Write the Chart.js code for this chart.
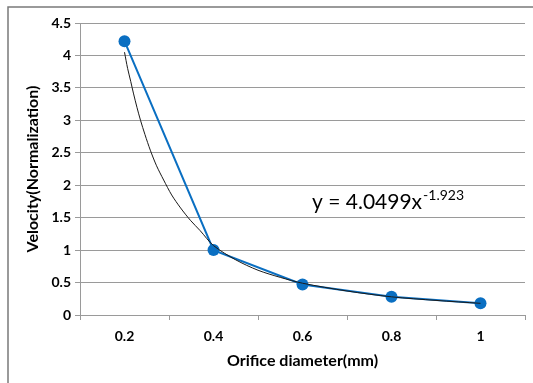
<!DOCTYPE html>
<html>
<head>
<meta charset="utf-8">
<script src="https://cdn.jsdelivr.net/npm/chart.js@4.4.1/dist/chart.umd.min.js"></script>
<style>
  html, body { margin: 0; padding: 0; background: #fff; }
  #wrap { width: 533px; height: 383px; }
</style>
</head>
<body>
<div id="wrap"><canvas id="chart"></canvas></div>
<script>
// data
const diameters = ["0.2", "0.4", "0.6", "0.8", "1"];
const velocity = [4.22, 1.0, 0.47, 0.28, 0.18];

// power trendline, points
const trendX = [0.2, 0.207, 0.214, 0.22, 0.228, 0.236, 0.246, 0.258, 0.272, 0.288, 0.306, 0.326, 0.348, 0.37, 0.4, 0.45, 0.5, 0.55, 0.6, 0.7, 0.8, 0.9, 1.0];
const trendY = [4.05, 3.8, 3.6, 3.42, 3.2, 3.0, 2.78, 2.54, 2.3, 2.08, 1.85, 1.65, 1.46, 1.3, 1.07, 0.85, 0.69, 0.58, 0.49, 0.37, 0.28, 0.225, 0.18];

const yTicks = [0, 0.5, 1, 1.5, 2, 2.5, 3, 3.5, 4, 4.5];

const blue = "#0a6fc2";
const gray = "#9a9a9a";
const fontFamily = "Lato, 'Open Sans', sans-serif";

const framePlugin = {
  id: "frame",
  beforeDraw(chart) {
    const ctx = chart.ctx;
    ctx.save();
    ctx.fillStyle = "#fff";
    ctx.fillRect(0, 0, chart.width, chart.height);
    ctx.strokeStyle = "#7a7a7a";
    ctx.lineWidth = 1.5;
    ctx.beginPath();
    ctx.moveTo(8, chart.height);
    ctx.lineTo(8, 7);
    ctx.lineTo(chart.width, 7);
    ctx.stroke();
    ctx.restore();
  },
};

const equationPlugin = {
  id: "equation",
  afterDatasetsDraw(chart) {
    const ctx = chart.ctx;
    const area = chart.chartArea;
    const x = area.left + 232;
    const y = area.top + 186;
    ctx.save();
    ctx.fillStyle = "#000";
    ctx.textBaseline = "alphabetic";
    ctx.font = "21px " + fontFamily;
    const main = "y = 4.0499x";
    ctx.fillText(main, x, y);
    const w = ctx.measureText(main).width;
    ctx.font = "14px " + fontFamily;
    ctx.fillText("-1.923", x + w + 1, y - 9);
    ctx.restore();
  },
};

new Chart(document.getElementById("chart"), {
  type: "line",
  data: {
    labels: diameters,
    datasets: [
      {
        label: "trend",
        xAxisID: "xt",
        data: trendX.map((v, i) => ({ x: v, y: trendY[i] })),
        borderColor: "#1a1a1a",
        borderWidth: 1,
        pointRadius: 0,
        tension: 0.3,
        fill: false,
      },
      {
        label: "velocity",
        data: velocity,
        borderColor: blue,
        backgroundColor: blue,
        borderWidth: 2,
        pointRadius: 6,
        pointHoverRadius: 6,
        pointBorderWidth: 0,
        tension: 0,
      },
    ],
  },
  options: {
    responsive: true,
    maintainAspectRatio: false,
    animation: false,
    layout: { padding: { top: 23, right: 8, left: 0, bottom: 0 } },
    plugins: {
      legend: { display: false },
      tooltip: { enabled: false },
    },
    scales: {
      x: {
        type: "category",
        offset: true,
        afterFit: (s) => { s.height = 68; },
        grid: {
          offset: true,
          drawOnChartArea: false,
          drawTicks: true,
          tickLength: 5,
          color: gray,
        },
        border: { color: gray },
        ticks: {
          color: "#000",
          padding: 8,
          font: { family: fontFamily, size: 14, weight: "bold" },
        },
        title: {
          display: true,
          text: "Orifice diameter(mm)",
          color: "#000",
          padding: { bottom: 13 },
          font: { family: fontFamily, size: 16, weight: "bold" },
        },
      },
      xt: {
        type: "linear",
        display: false,
        min: 0.1,
        max: 1.1,
      },
      y: {
        min: 0,
        max: 4.5,
        afterFit: (s) => { s.width = 80; },
        afterBuildTicks: (s) => { s.ticks = yTicks.map((v) => ({ value: v })); },
        grid: {
          color: gray,
          drawTicks: true,
          tickLength: 5,
        },
        border: { color: gray },
        ticks: {
          color: "#000",
          padding: 4,
          font: { family: fontFamily, size: 14, weight: "bold" },
          callback: (v) => String(v),
        },
        title: {
          display: true,
          text: "Velocity(Normalization)",
          color: "#000",
          padding: { top: 23 },
          font: { family: fontFamily, size: 16, weight: "bold" },
        },
      },
    },
  },
  plugins: [framePlugin, equationPlugin],
});
</script>
</body>
</html>
